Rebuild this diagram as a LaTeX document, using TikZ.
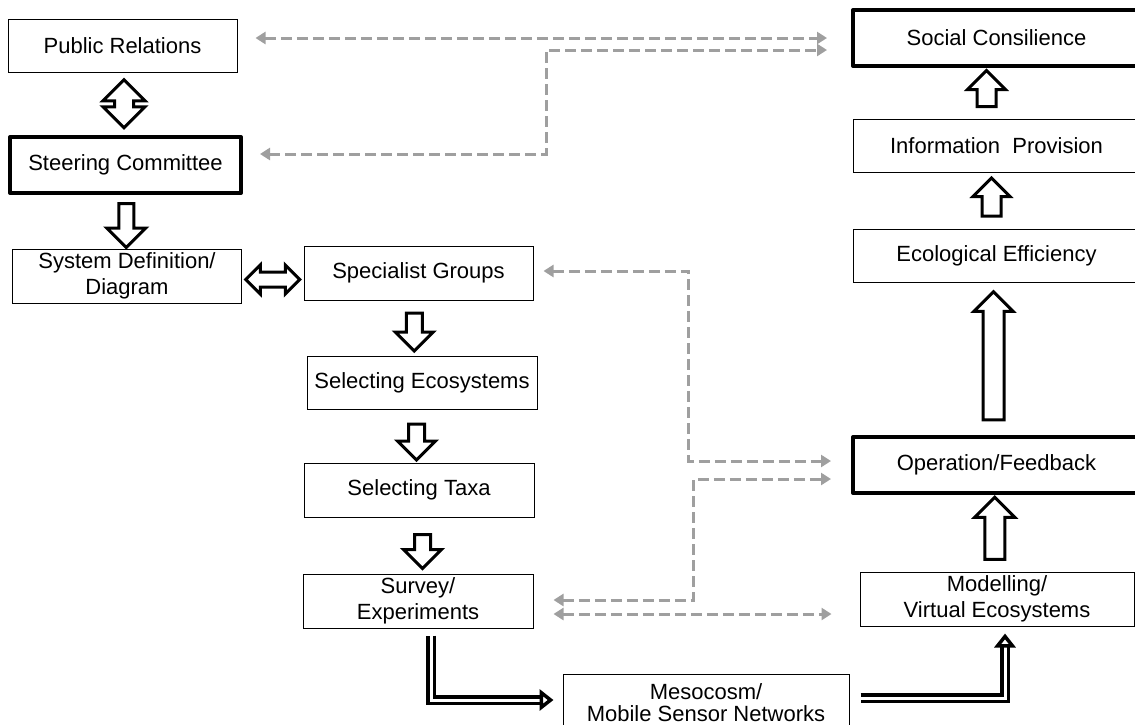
\documentclass[tikz,border=0pt]{standalone}
\usepackage{fontspec}
\setmainfont{Liberation Sans}
\usetikzlibrary{arrows.meta,calc,shapes.arrows}
\begin{document}
\begin{tikzpicture}[x=0.5pt,y=-0.5pt,
main node/.style={draw,line width=0.5pt,align=center,inner sep=0pt,minimum width=114.5pt,minimum height=27pt},
key node/.style={main node,line width=2pt,line join=round},
block/.style={draw,line width=1.5pt,fill=white,single arrow,single arrow head indent=0pt},
twin block/.style={draw,line width=1.5pt,fill=white,double arrow,double arrow head indent=0pt},
link/.style={draw=gray!75,line width=1.5pt,dash pattern=on 5.5pt off 2.5pt,{Triangle[length=5pt,width=6pt]}-{Triangle[length=5pt,width=6pt]}},
pipe/.style={draw,line width=1.75pt,double=white,double distance=1.5pt,-{Triangle[open,length=7pt,width=10.5pt]}}]
\useasboundingbox (0,0) rectangle (1135,724);
\begin{scope}[every node/.style={font=\fontsize{11}{13}\selectfont}]
\node[main node,minimum height=26.5pt] (pr) at (122.5,45.5) {Public Relations};
\node[key node,minimum width=115.5pt,minimum height=28pt] (sc) at (125.5,165) {Steering Committee};
\node[main node] (sd) at (127,276) {System Definition/\\Diagram};
\node[main node] (sg) at (418.5,273) {Specialist Groups};
\node[main node,minimum width=115pt,minimum height=26.5pt] (se) at (422,382.5) {Selecting Ecosystems};
\node[main node,minimum width=115pt] (st) at (419,490) {Selecting Taxa};
\node[main node,minimum width=115pt] (sv) at (418,601) {Survey/\\Experiments};
\node[main node,minimum width=143pt,minimum height=29pt] (meso) at (706,703) {Mesocosm/\\[-2pt]Mobile Sensor Networks};
\node[key node,minimum width=143.5pt,minimum height=28pt] (scons) at (996.5,38) {Social Consilience};
\node[main node,minimum width=143.5pt,minimum height=26.5pt] (ip) at (996.5,145.5) {Information\ \ Provision};
\node[main node,minimum width=143.5pt,minimum height=26.5pt] (ee) at (996.5,256) {Ecological Efficiency};
\node[key node,minimum width=143.5pt,minimum height=28pt] (of) at (996.5,465) {Operation/Feedback};
\node[main node,minimum width=137pt] (mv) at (997,599) {Modelling/\\Virtual Ecosystems};
\end{scope}
\begin{scope}
\node[twin block,rotate=90,minimum height=24pt,inner sep=4pt,double arrow head extend=5.75pt] (a1) at ($(pr.south)!0.5!(sc.north)$) {};
\node[block,rotate=-90,minimum height=22pt,inner sep=3pt,single arrow head extend=6pt] (a2) at ($(sc.south)!0.5!(sd.north)$) {};
\node[twin block,minimum height=27pt,inner sep=3pt,double arrow head extend=3.5pt] (a3) at ($(sd.east)!0.5!(sg.west)+(0,5)$) {};
\node[block,rotate=-90,minimum height=19pt,inner sep=3.25pt,single arrow head extend=5.5pt] (a4) at ($(sg.south)!0.5!(se.north)+(-6,0)$) {};
\node[block,rotate=-90,minimum height=18pt,inner sep=3.25pt,single arrow head extend=5.5pt] (a5) at ($(se.south)!0.5!(st.north)+(-4,2)$) {};
\node[block,rotate=-90,minimum height=17pt,inner sep=3.25pt,single arrow head extend=5.5pt] (a6) at ($(st.south)!0.5!(sv.north)+(4,2)$) {};
\node[block,rotate=90,minimum height=18pt,inner sep=4pt,single arrow head extend=4.75pt] (a7) at ($(ip.north)!0.5!(scons.south)+(-10,0)$) {};
\node[block,rotate=90,minimum height=19pt,inner sep=4pt,single arrow head extend=4.5pt] (a8) at ($(ee.north)!0.5!(ip.south)+(-5,1)$) {};
\node[block,rotate=90,minimum height=64pt,inner sep=4.5pt,single arrow head extend=4.5pt] (a9) at ($(of.north)!0.5!(ee.south)+(-3,2)$) {};
\node[block,rotate=90,minimum height=31pt,inner sep=4.25pt,single arrow head extend=5pt] (a10) at ($(mv.north)!0.5!(of.south)+(-2,0)$) {};
\end{scope}
\begin{scope}
\draw[pipe] ([xshift=6.5pt,yshift=-3.5pt]sv.south) |- ([xshift=-4.5pt,yshift=1.5pt]meso.west);
\draw[pipe] ([xshift=5.5pt,yshift=2.5pt]meso.east) -| ([xshift=4pt,yshift=-3.5pt]mv.south);
\end{scope}
\begin{scope}
\draw[link] ([xshift=9pt,yshift=3.75pt]pr.east) -- ([xshift=-12pt]scons.west);
\draw[link] ([xshift=8.5pt,yshift=5.5pt]sc.east) -- ++(286,0) |- ([xshift=-12pt,yshift=-6pt]scons.west);
\draw[link] ([xshift=5pt,yshift=1pt]sg.east) -- ++(145,0) |- ([xshift=-10pt,yshift=2pt]of.west);
\draw[link] ([xshift=10pt,yshift=0.5pt]sv.east) -- ++(140,0) |- ([xshift=-10pt,yshift=-7pt]of.west);
\draw[link] ([xshift=10pt,yshift=-6.5pt]sv.east) -- ([xshift=-14pt,yshift=-7.5pt]mv.west);
\end{scope}
\end{tikzpicture}
\end{document}
